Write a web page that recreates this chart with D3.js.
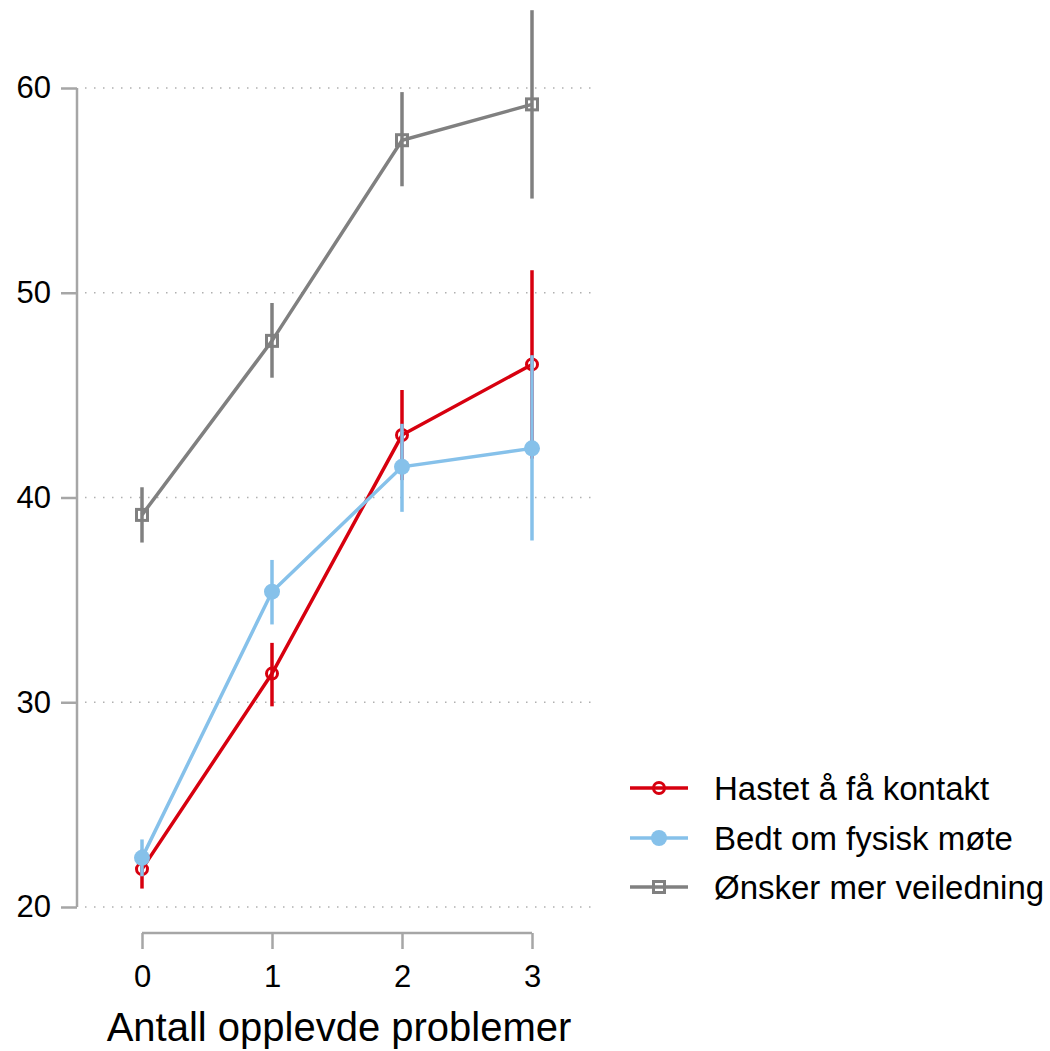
<!DOCTYPE html>
<html><head><meta charset="utf-8">
<script src="https://cdn.jsdelivr.net/npm/d3@7"></script>
<style>body{margin:0;background:#fff;} text{font-family:"Liberation Sans",Arial,sans-serif;}</style>
</head><body>
<svg id="c" width="1050" height="1051"></svg>
<script>
const xValues = [0, 1, 2, 3];
const yTicks = [20, 30, 40, 50, 60];
const seriesNames = ["Hastet å få kontakt", "Bedt om fysisk møte", "Ønsker mer veiledning"];
const hastetMean = [21.85, 31.4, 43.05, 46.5];
const hastetLow  = [20.9, 29.8, 40.85, 41.9];
const hastetHigh = [22.8, 32.9, 45.25, 51.1];
const bedtMean = [22.4, 35.4, 41.5, 42.4];
const bedtLow  = [21.5, 33.8, 39.3, 37.9];
const bedtHigh = [23.3, 36.95, 43.6, 46.95];
const onskerMean = [39.15, 47.65, 57.45, 59.2];
const onskerLow  = [37.8, 45.85, 55.2, 54.6];
const onskerHigh = [40.5, 49.5, 59.8, 63.8];
const xTitle = "Antall opplevde problemer";

const colors = ["#d7000f", "#86c1ea", "#808080"];
const series = [
  {name: seriesNames[0], mean: hastetMean, lo: hastetLow, hi: hastetHigh, color: colors[0], marker: "ocircle"},
  {name: seriesNames[1], mean: bedtMean, lo: bedtLow, hi: bedtHigh, color: colors[1], marker: "circle"},
  {name: seriesNames[2], mean: onskerMean, lo: onskerLow, hi: onskerHigh, color: colors[2], marker: "osquare"}
];

const svg = d3.select("#c");
const x = d3.scaleLinear().domain([0, 3]).range([142, 532]);
const y = d3.scaleLinear().domain([20, 60]).range([907, 88]);
const axisColor = "#a6a6a6";
const lw = 3.5;

// gridlines
svg.append("g").selectAll("line").data(yTicks).join("line")
  .attr("x1", 85).attr("x2", 595)
  .attr("y1", d => y(d)).attr("y2", d => y(d))
  .attr("stroke", "#b0b0b0").attr("stroke-width", 1.5)
  .attr("stroke-dasharray", "1.5,7.5");

// y axis
const yAxis = svg.append("g").attr("transform", "translate(77,0)")
  .call(d3.axisLeft(y).tickValues(yTicks).tickSize(16).tickPadding(10));
yAxis.attr("font-size", 31).attr("font-family", "Liberation Sans, Arial, sans-serif");
yAxis.select(".domain").attr("stroke", axisColor).attr("stroke-width", 2.5).attr("d", `M0,${y(60)}V${y(20)}`);
yAxis.selectAll(".tick line").attr("stroke", axisColor).attr("stroke-width", 2.5);
yAxis.selectAll(".tick text").attr("fill", "#000");

// x axis
const xAxis = svg.append("g").attr("transform", "translate(0,933)")
  .call(d3.axisBottom(x).tickValues(xValues).tickFormat(d3.format("d")).tickSize(16).tickPadding(16));
xAxis.attr("font-size", 31).attr("font-family", "Liberation Sans, Arial, sans-serif");
xAxis.select(".domain").attr("stroke", axisColor).attr("stroke-width", 2.5).attr("d", `M${x(0)},0H${x(3)}`);
xAxis.selectAll(".tick line").attr("stroke", axisColor).attr("stroke-width", 2.5);
xAxis.selectAll(".tick text").attr("fill", "#000");

svg.append("text").attr("x", (x(0) + x(3)) / 2 + 2).attr("y", 1041)
  .attr("text-anchor", "middle").attr("font-size", 40).attr("fill", "#000").text(xTitle);

function drawMarker(g, type, cx, cy, color) {
  if (type === "ocircle") {
    g.append("circle").attr("cx", cx).attr("cy", cy).attr("r", 5.5)
      .attr("fill", "none").attr("stroke", color).attr("stroke-width", 3);
  } else if (type === "circle") {
    g.append("circle").attr("cx", cx).attr("cy", cy).attr("r", 8).attr("fill", color);
  } else {
    g.append("rect").attr("x", cx - 5.5).attr("y", cy - 5.5).attr("width", 11).attr("height", 11)
      .attr("fill", "none").attr("stroke", color).attr("stroke-width", 3);
  }
}

const line = d3.line().x((d, i) => x(xValues[i])).y(d => y(d));
series.forEach(s => {
  const g = svg.append("g");
  g.selectAll("line.ci").data(xValues).join("line").attr("class", "ci")
    .attr("x1", d => x(d)).attr("x2", d => x(d))
    .attr("y1", (d, i) => y(s.lo[i])).attr("y2", (d, i) => y(s.hi[i]))
    .attr("stroke", s.color).attr("stroke-width", lw);
  g.append("path").attr("d", line(s.mean)).attr("fill", "none")
    .attr("stroke", s.color).attr("stroke-width", lw);
  s.mean.forEach((m, i) => drawMarker(g, s.marker, x(xValues[i]), y(m), s.color));
});

// legend
const legendY = [788, 838, 887];
series.forEach((s, i) => {
  const g = svg.append("g");
  g.append("line").attr("x1", 630).attr("x2", 688).attr("y1", legendY[i]).attr("y2", legendY[i])
    .attr("stroke", s.color).attr("stroke-width", lw);
  drawMarker(g, s.marker, 659, legendY[i], s.color);
  g.append("text").attr("x", 714).attr("y", legendY[i] + 12).attr("font-size", 33)
    .attr("fill", "#000").text(s.name);
});
</script>
</body></html>
